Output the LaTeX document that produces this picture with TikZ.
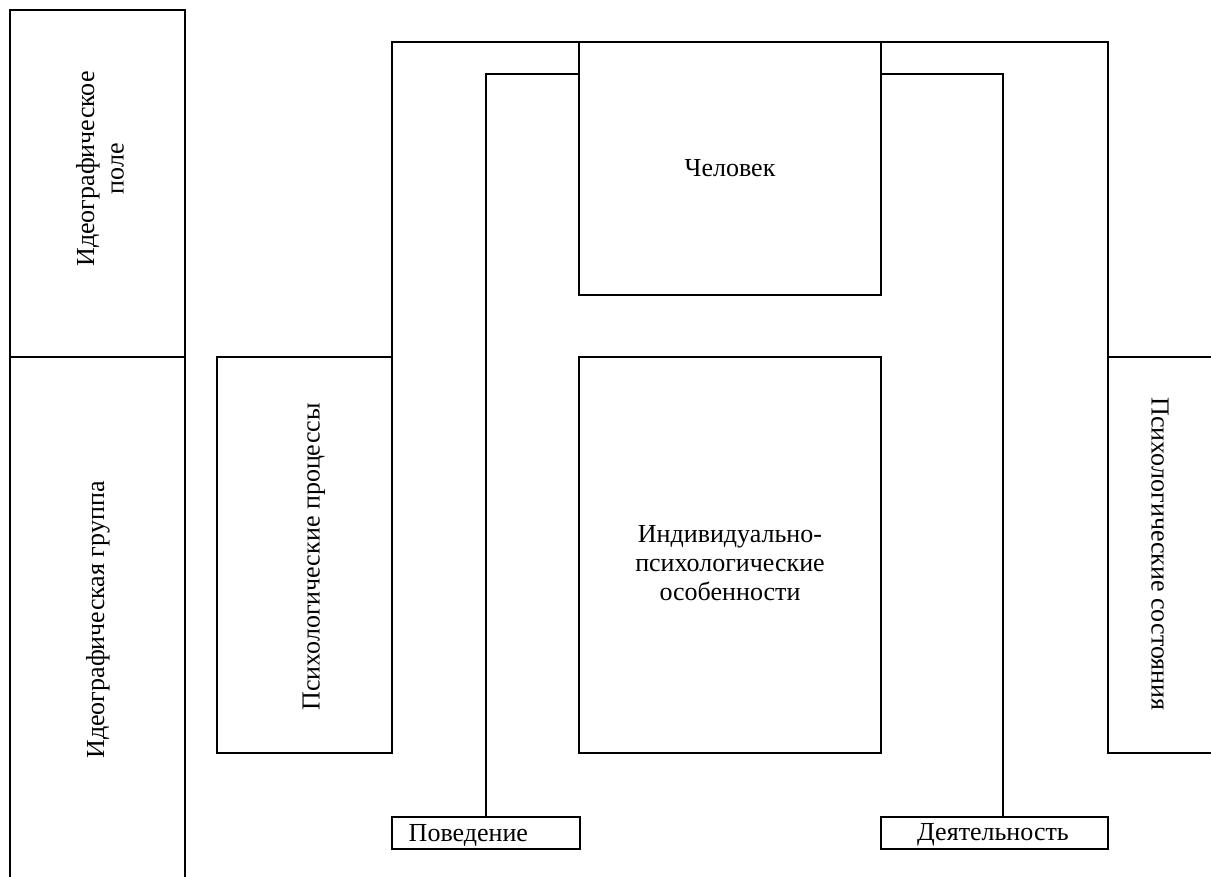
\documentclass[tikz,border=0pt]{standalone}
\usepackage{fontspec}
\setmainfont{Liberation Serif}
\begin{document}
\begin{tikzpicture}[x=0.75pt,y=-0.75pt,
  line width=1.1pt,
  every node/.style={font=\fontsize{19.5}{22}\selectfont},
  box/.style={draw,rectangle,inner sep=0pt,outer sep=0pt},
  txt/.style={align=center,inner sep=0pt}]
\useasboundingbox (0,0) rectangle (1211,877);
% left column
\node[box,minimum width={175*0.75pt},minimum height={347*0.75pt}] (field) at (97.5,183.5) {};
\node[box,minimum width={175*0.75pt},minimum height={560*0.75pt}] (group) at (97.5,637) {};
\node[txt,rotate=90] (fieldt) at (100,169) {Идеографическое\\поле};
\node[txt,rotate=90] (groupt) at (98,620) {Идеографическая группа};
% central boxes
\node[box,minimum width={175*0.75pt},minimum height={396*0.75pt}] (proc) at (304.5,555) {};
\node[txt,rotate=90] (proct) at (314,557) {Психологические процессы};
\node[box,minimum width={302*0.75pt},minimum height={253*0.75pt}] (chel) at (730,168.5) {Человек};
\node[box,minimum width={302*0.75pt},minimum height={396*0.75pt}] (ind) at (730,555) {};
\node[txt] (indt) at (730,563) {Индивидуально-\\психологические\\особенности};
\node[box,minimum width={140*0.75pt},minimum height={396*0.75pt}] (state) at (1178,555) {};
\node[txt,rotate=-90] (statet) at (1160,554) {Психологические состояния};
\node[box,minimum width={188*0.75pt},minimum height={32*0.75pt}] (beh) at (486,833) {};
\node[txt,anchor=west] (beht) at (408,835) {Поведение};
\node[box,minimum width={227*0.75pt},minimum height={32*0.75pt}] (act) at (994.5,833) {};
\node[txt] (actt) at (993,835) {Деятельность};
% connectors
\coordinate (il) at (579,74);
\coordinate (ir) at (881,74);
\coordinate (ar) at (1003,817);
\draw (proc.north east) |- (chel.north west);
\draw (chel.north east) -| (state.north west);
\draw (beh.north) |- (il);
\draw (ir) -| (ar);
\end{tikzpicture}
\end{document}
